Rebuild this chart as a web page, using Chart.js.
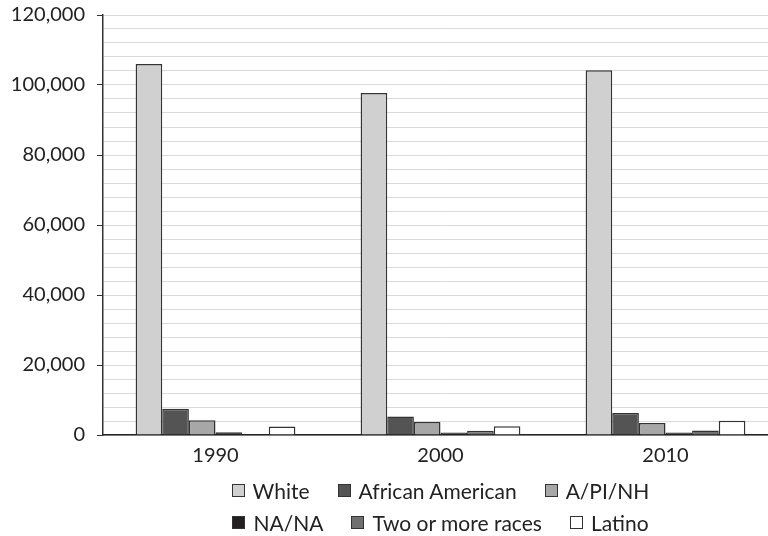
<!DOCTYPE html>
<html>
<head>
<meta charset="utf-8">
<script src="https://cdn.jsdelivr.net/npm/chart.js@4.4.0/dist/chart.umd.min.js"></script>
<style>
  html, body { margin: 0; padding: 0; background: #fff; overflow: hidden; }
  #wrap { position: relative; width: 790px; height: 536px; }
  #legend { position: absolute; left: 103px; width: 675px; top: 474px;
    font-family: Lato, "Open Sans", sans-serif; font-size: 21px; color: #222; }
  .row { display: flex; justify-content: center; height: 32px; align-items: center; }
  .item { display: flex; align-items: center; margin: 0 14px; white-space: nowrap; }
  .box { width: 11px; height: 11px; border: 1px solid #333; margin-right: 8px; }
</style>
</head>
<body>
<div id="wrap">
  <canvas id="c" width="790" height="536"></canvas>
  <div id="legend"></div>
</div>
<script>
const categories = ["1990", "2000", "2010"];
const seriesNames = ["White", "African American", "A/PI/NH", "NA/NA", "Two or more races", "Latino"];
const white = [106000, 97700, 104200];
const africanAmerican = [7500, 5300, 6300];
const apinh = [4200, 3700, 3400];
const nana = [800, 700, 700];
const twoOrMore = [0, 1200, 1300];
const latino = [2400, 2500, 4100];
const yTicks = [0, 20000, 40000, 60000, 80000, 100000, 120000];

const seriesValues = [white, africanAmerican, apinh, nana, twoOrMore, latino];
const fills = ["#d0d0d0", "#545454", "#a7a7a7", "#231f20", "#707070", "#ffffff"];

const datasets = seriesNames.map((name, i) => ({
  label: name,
  data: seriesValues[i],
  backgroundColor: fills[i],
  borderColor: "#333333",
  borderWidth: 1.5,
  categoryPercentage: 0.71,
  barPercentage: 1.0
}));

const font = { family: "Lato, 'Open Sans', sans-serif", size: 20 };

new Chart(document.getElementById("c"), {
  type: "bar",
  data: { labels: categories, datasets },
  options: {
    responsive: false,
    animation: false,
    layout: { padding: { left: 0, right: 12, top: 15, bottom: 0 } },
    plugins: { legend: { display: false }, tooltip: { enabled: false } },
    scales: {
      x: {
        grid: { display: false, drawTicks: false },
        border: { color: "#222", width: 1.5 },
        ticks: { font, color: "#222", padding: 9 },
        afterFit: s => { s.height = 536 - 435; s.paddingLeft = 0; s.paddingRight = 0; }
      },
      y: {
        min: 0, max: 120000,
        grid: {
          color: "#d9d9d9", lineWidth: 1, tickLength: 6,
          tickColor: ctx => (yTicks.includes(ctx.tick.value) ? "#333" : "rgba(0,0,0,0)")
        },
        border: { color: "#333", width: 1.5 },
        ticks: {
          stepSize: 4000, autoSkip: false, font, color: "#222", padding: 12,
          callback: v => (yTicks.includes(v) ? v.toLocaleString("en-US") : "")
        },
        afterFit: s => { s.width = 103; s.paddingTop = 0; s.paddingBottom = 0; }
      }
    }
  }
});

const legend = document.getElementById("legend");
[[0, 1, 2], [3, 4, 5]].forEach(idx => {
  const row = document.createElement("div");
  row.className = "row";
  idx.forEach(i => {
    const it = document.createElement("div");
    it.className = "item";
    const b = document.createElement("span");
    b.className = "box";
    b.style.background = fills[i];
    const t = document.createElement("span");
    t.textContent = seriesNames[i];
    it.appendChild(b); it.appendChild(t);
    row.appendChild(it);
  });
  legend.appendChild(row);
});
</script>
</body>
</html>
